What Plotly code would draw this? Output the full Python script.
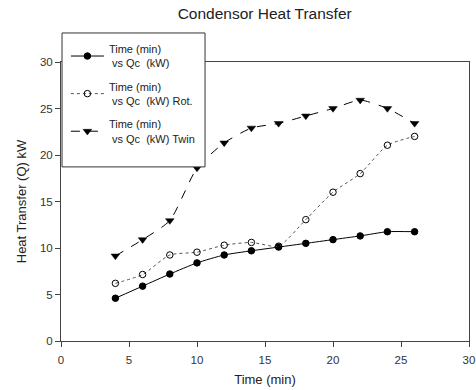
import plotly.graph_objects as go

time_min = [4, 6, 8, 10, 12, 14, 16, 18, 20, 22, 24, 26]
qc = [4.6, 5.9, 7.2, 8.4, 9.25, 9.7, 10.1, 10.5, 10.9, 11.3, 11.75, 11.75]
qc_rot = [6.2, 7.15, 9.25, 9.55, 10.3, 10.6, 10.2, 13.05, 16.0, 18.0, 21.05, 22.0]
qc_twin = [9.15, 10.9, 12.95, 18.6, 21.3, 22.9, 23.4, 24.2, 25.0, 25.9, 25.0, 23.4]

NB = "\u00a0"
names = ["Time (min)<br>" + NB + "vs Qc" + NB * 2 + "(kW)",
         "Time (min)<br>" + NB + "vs Qc" + NB * 2 + "(kW) Rot.",
         "Time (min)<br>" + NB + "vs Qc" + NB * 2 + "(kW) Twin"]

font_family = "Liberation Sans, Arial, sans-serif"

fig = go.Figure()
fig.add_trace(go.Scatter(
    x=time_min, y=qc, name=names[0], mode="lines+markers", legendgroup="a",
    line=dict(color="black", width=1, shape="spline", smoothing=0.6),
    marker=dict(symbol="circle", size=6.5, color="black", line=dict(color="black", width=1))))
fig.add_trace(go.Scatter(
    x=time_min, y=qc_rot, name=names[1], mode="lines+markers", legendgroup="b",
    line=dict(color="#555555", width=1, dash="dot", shape="spline", smoothing=0.6),
    marker=dict(symbol="circle-open", size=6.5, color="black", line=dict(color="black", width=1))))
fig.add_trace(go.Scatter(
    x=time_min, y=qc_twin, name=names[2], mode="lines+markers", legendgroup="c",
    line=dict(color="black", width=1, dash="dash", shape="spline", smoothing=0.6),
    marker=dict(symbol="triangle-down", size=7.5, color="black", line=dict(color="black", width=0.5))))

axis_common = dict(
    showline=True, linecolor="#444444", linewidth=1, mirror=True,
    ticks="outside", ticklen=5, tickcolor="#444444", tickwidth=1,
    showgrid=False, zeroline=False,
    tickfont=dict(size=11.5, color="#333333", family=font_family),
)

# legend frame drawn as a white box over the plot (paper coordinates)
fig.add_shape(type="rect", xref="paper", yref="paper",
              x0=0.0025, x1=0.353, y0=0.624, y1=1.104,
              line=dict(color="#333333", width=1), fillcolor="white", layer="above")

fig.update_layout(
    width=476, height=390,
    margin=dict(l=61, r=7, t=62, b=49, autoexpand=False),
    paper_bgcolor="white", plot_bgcolor="white",
    title=dict(text="Condensor Heat Transfer", x=0.556, xanchor="center", y=0.965, yanchor="middle",
               font=dict(size=15.5, color="#222222", family=font_family)),
    xaxis=dict(range=[0, 30], tickvals=[0, 5, 10, 15, 20, 25, 30], ticklabelstandoff=3,
               title=dict(text="Time (min)", font=dict(size=13, color="#222222", family=font_family), standoff=10),
               **axis_common),
    yaxis=dict(range=[0, 30], tickvals=[0, 5, 10, 15, 20, 25, 30],
               title=dict(text="Heat Transfer (Q) kW", font=dict(size=13, color="#222222", family=font_family), standoff=10),
               **axis_common),
    legend=dict(x=0.012, y=1.096, xanchor="left", yanchor="top",
                bgcolor="rgba(0,0,0,0)", borderwidth=0,
                font=dict(size=11, color="#222222", family=font_family),
                tracegroupgap=6, itemwidth=33),
    showlegend=True,
)

fig.write_html("out.html", config={"displayModeBar": False},
               post_script="document.body.style.margin='0px';")
